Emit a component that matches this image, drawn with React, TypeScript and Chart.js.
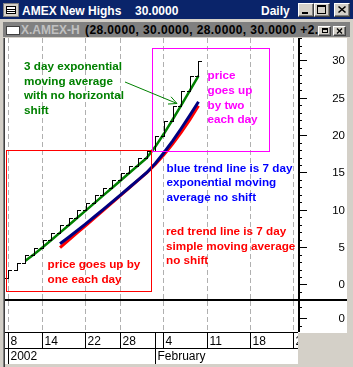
import React, { useEffect, useRef } from 'react';
import { Chart, registerables } from 'chart.js';

Chart.register(...registerables);

const FONT = '"Liberation Sans", Arial, Helvetica, sans-serif';
const TOP = 38; // page y of the canvas top

// trading-day index of every bar (Jan 8 2002 = 0)
const barIndex = [0, 1, 2, 3, 4, 5, 6, 7, 8, 9, 10, 11, 12, 13, 14, 15, 16, 17, 18, 19, 20, 21, 22];
const opens = [1, 2, 3, 4, 5, 6, 7, 8, 9, 10, 11, 12, 13, 14, 15, 16, 17, 18, 20, 22, 24, 26, 28];
const highs = [2, 3, 4, 5, 6, 7, 8, 9, 10, 11, 12, 13, 14, 15, 16, 17, 18, 20, 22, 24, 26, 28, 30];
const lows = [1, 2, 3, 4, 5, 6, 7, 8, 9, 10, 11, 12, 13, 14, 15, 16, 17, 18, 20, 22, 24, 26, 28];
const closes = [2, 3, 4, 5, 6, 7, 8, 9, 10, 11, 12, 13, 14, 15, 16, 17, 18, 20, 22, 24, 26, 28, 30];

const ema3 = [null, null, 3.25, 4.13, 5.06, 6.03, 7.02, 8.01, 9, 10, 11, 12, 13, 14, 15, 16, 17, 18.5, 20.25, 22.13, 24.06, 26.03, 28.02];
const ema7 = [null, null, null, null, null, null, 5.53, 6.4, 7.3, 8.23, 9.17, 10.13, 11.1, 12.08, 13.06, 14.05, 15.04, 16.28, 17.71, 19.28, 20.96, 22.72, 24.54];
const sma7 = [null, null, null, null, null, null, 5, 6, 7, 8, 9, 10, 11, 12, 13, 14, 15, 16.14, 17.43, 18.86, 20.43, 22.14, 24];

const dateTickIdx = [0, 4, 9, 13, 18, 23, 28, 33];
const dateTickLabels = ['8', '14', '22', '28', '4', '11', '18', '25'];
const monthIdx = [0, 17];
const monthLabels = ['2002', 'February'];

const priceTicks = [-1, 0, 1, 2, 3, 4, 5, 6, 7, 8, 9, 10, 11, 12, 13, 14, 15, 16, 17, 18, 19, 20, 21, 22, 23, 24, 25, 26, 27, 28, 29, 30, 31, 32, 33];
const priceLabels = [0, 5, 10, 15, 20, 25, 30];

const pts = (arr: (number | null)[]) =>
  arr.map((v, i) => (v == null ? null : { x: barIndex[i], y: v })).filter(Boolean) as { x: number; y: number }[];

const notes = [
  { color: '#008000', x: 24, y0: 70, lines: ['3 day exponential', 'moving average', 'with no horizontal', 'shift'] },
  { color: '#ff00ff', x: 207.5, y0: 79.3, lines: ['price', 'goes up', 'by two', 'each day'] },
  { color: '#0000ff', x: 166.5, y0: 171.7, lines: ['blue trend line is 7 day', 'exponential moving', 'average no shift'] },
  { color: '#ff0000', x: 166, y0: 235, lines: ['red trend line is 7 day', 'simple moving average', 'no shift'] },
  { color: '#ff0000', x: 47.5, y0: 268.3, lines: ['price goes up by', 'one each day'] },
];

const gridColor = '#b0b0b0';

const pagePlugin = {
  id: 'page',
  beforeDraw(chart: any) {
    const ctx = chart.ctx;
    ctx.save();
    ctx.translate(0, -TOP);
    ctx.fillStyle = '#d4d0c8';
    ctx.fillRect(0, 38, 353, 329);
    ctx.fillStyle = '#808080';
    ctx.fillRect(3, 38, 1, 329);
    ctx.fillStyle = '#404040';
    ctx.fillRect(4, 38, 1, 329);
    ctx.fillStyle = '#ffffff';
    ctx.fillRect(5, 38, 342, 295);
    ctx.fillRect(5, 333, 293, 31);
    ctx.restore();
  },
  afterDatasetsDraw(chart: any) {
    const { ctx, scales } = chart;
    const xs = scales.x;
    const ys = scales.y;
    ctx.save();
    ctx.fillStyle = '#000';
    for (let i = 0; i < barIndex.length; i++) {
      const cx = Math.round(xs.getPixelForValue(barIndex[i]));
      const yh = Math.round(ys.getPixelForValue(highs[i]));
      const yl = Math.round(ys.getPixelForValue(lows[i]));
      const yo = Math.round(ys.getPixelForValue(opens[i]));
      const yc = Math.round(ys.getPixelForValue(closes[i]));
      ctx.fillRect(cx, yh, 1, yl - yh + 1);
      ctx.fillRect(cx - 3, yo, 3, 1);
      ctx.fillRect(cx + 1, yc, 3, 1);
    }
    ctx.restore();
  },
  afterDraw(chart: any) {
    const { ctx, scales } = chart;
    const xs = scales.x;
    const ys = scales.y;
    ctx.save();
    // y tick marks (canvas coords)
    ctx.fillStyle = '#000';
    ys.ticks.forEach((t: any) => {
      const p = Math.floor(ys.getPixelForValue(t.value));
      const major = priceLabels.includes(t.value);
      ctx.fillRect(300, p, major ? 7 : 2, 1);
    });
    ctx.translate(0, -TOP);
    // axis line through both panels
    ctx.fillRect(298, 38, 2, 294);
    // panel separator
    ctx.fillRect(5, 299, 342, 2);
    // lower panel grid
    ctx.strokeStyle = gridColor;
    ctx.lineWidth = 1;
    ctx.setLineDash([5, 3]);
    dateTickIdx.forEach((v) => {
      const c = Math.round(xs.getPixelForValue(v) - 0.5) + 0.5;
      ctx.beginPath();
      ctx.moveTo(c, 301);
      ctx.lineTo(c, 332);
      ctx.stroke();
    });
    ctx.setLineDash([]);
    // lower panel ticks and label
    ctx.fillStyle = '#000';
    ctx.fillRect(300, 307, 2, 1);
    ctx.fillRect(300, 318, 7, 1);
    ctx.fillRect(300, 326, 2, 1);
    ctx.font = `11.5px ${FONT}`;
    ctx.textAlign = 'right';
    ctx.textBaseline = 'middle';
    ctx.fillText('0', 345, 318.5);
    // date rows
    ctx.fillRect(5, 332, 293, 1);
    ctx.fillRect(5, 348, 293, 1);
    ctx.save();
    ctx.beginPath();
    ctx.rect(5, 332, 293, 32);
    ctx.clip();
    ctx.font = `12px ${FONT}`;
    ctx.textAlign = 'left';
    ctx.textBaseline = 'alphabetic';
    dateTickIdx.forEach((v, i) => {
      const c = Math.round(xs.getPixelForValue(v) - 0.5);
      ctx.fillRect(c, 332, 1, 16);
      ctx.fillText(dateTickLabels[i], c + 2.5, 345);
    });
    monthIdx.forEach((v, i) => {
      const c = Math.round(xs.getPixelForValue(v) - 0.5);
      ctx.fillRect(c, 332, 1, 32);
      ctx.fillText(monthLabels[i], c + 2.5, 359.5);
    });
    ctx.restore();
    // boxes
    ctx.lineWidth = 1;
    ctx.strokeStyle = '#ff00ff';
    ctx.strokeRect(152.5, 48.5, 117, 103);
    ctx.strokeStyle = '#ff0000';
    ctx.strokeRect(6.5, 150.5, 145, 141);
    // arrow
    ctx.strokeStyle = '#008000';
    const ax0 = 125, ay0 = 82, ax1 = 177, ay1 = 103.5;
    ctx.beginPath();
    ctx.moveTo(ax0, ay0);
    ctx.lineTo(ax1, ay1);
    const ang = Math.atan2(ay1 - ay0, ax1 - ax0);
    [0.45, -0.45].forEach((d) => {
      ctx.moveTo(ax1, ay1);
      ctx.lineTo(ax1 - 9 * Math.cos(ang + d), ay1 - 9 * Math.sin(ang + d));
    });
    ctx.stroke();
    // notes
    ctx.font = `bold 11.7px ${FONT}`;
    ctx.textAlign = 'left';
    ctx.textBaseline = 'alphabetic';
    notes.forEach((n) => {
      ctx.fillStyle = n.color;
      n.lines.forEach((l, k) => ctx.fillText(l, n.x, n.y0 + k * 14.6));
    });
    ctx.restore();
  },
};

const btnStyle = (left: number, top: number, w: number, h: number): React.CSSProperties => ({
  position: 'absolute',
  left,
  top,
  width: w,
  height: h,
  boxSizing: 'border-box',
  background: '#d4d0c8',
  borderTop: '1px solid #ffffff',
  borderLeft: '1px solid #ffffff',
  borderRight: '1px solid #404040',
  borderBottom: '1px solid #404040',
  boxShadow: 'inset -1px -1px 0 #808080',
});

const txt = (left: number, top: number, color: string, extra: React.CSSProperties = {}): React.CSSProperties => ({
  position: 'absolute',
  left,
  top,
  color,
  font: `bold 12px ${FONT}`,
  lineHeight: '12px',
  whiteSpace: 'nowrap',
  ...extra,
});

export default function App() {
  const ref = useRef<HTMLCanvasElement>(null);
  useEffect(() => {
    const canvas = ref.current!;
    const chart = new Chart(canvas, {
      type: 'line',
      data: {
        datasets: [
          { label: '7 day simple MA', data: pts(sma7), borderColor: '#ff0000', borderWidth: 3, pointRadius: 0, tension: 0, order: 3 },
          { label: '7 day exponential MA', data: pts(ema7), borderColor: '#000080', borderWidth: 3, pointRadius: 0, tension: 0, order: 2 },
          { label: '3 day exponential MA', data: pts(ema3), borderColor: '#008000', borderWidth: 2.5, pointRadius: 0, tension: 0, order: 1 },
        ],
      },
      options: {
        animation: false,
        responsive: false,
        devicePixelRatio: 1,
        events: [],
        layout: { padding: { left: 5, right: 8, top: 0, bottom: 68 } },
        plugins: { legend: { display: false }, tooltip: { enabled: false } },
        scales: {
          x: {
            type: 'linear',
            min: -0.3582,
            max: 33.499,
            grid: { display: true, drawTicks: false, color: gridColor, lineWidth: 1, borderDash: [5, 3] } as any,
            border: { display: false, dash: [5, 3] },
            ticks: { display: false },
            afterBuildTicks: (s: any) => {
              s.ticks = dateTickIdx.map((v) => ({ value: v }));
            },
            afterFit: (s: any) => {
              s.height = 0;
              s.paddingLeft = 0;
              s.paddingRight = 0;
            },
          },
          y: {
            type: 'linear',
            position: 'right',
            min: -1.875,
            max: 33.08,
            grid: { display: false, drawTicks: false },
            border: { display: false },
            ticks: {
              autoSkip: false,
              padding: 34,
              crossAlign: 'far',
              color: '#000',
              font: { family: FONT, size: 11.5 },
              callback: (v: any) => (priceLabels.includes(Number(v)) ? String(v) : ''),
            },
            afterBuildTicks: (s: any) => {
              s.ticks = priceTicks.map((v) => ({ value: v }));
            },
            afterFit: (s: any) => {
              s.width = 47;
              s.paddingTop = 0;
              s.paddingBottom = 0;
            },
          },
        },
      },
      plugins: [pagePlugin],
    } as any);
    return () => chart.destroy();
  }, []);

  return (
    <div style={{ position: 'fixed', left: 0, top: 0, width: 353, height: 367, background: '#d4d0c8', overflow: 'hidden' }}>
      {/* title bar */}
      <div style={{ position: 'absolute', left: 0, top: 0, width: 353, height: 19, background: '#0a246a' }} />
      <div style={{ position: 'absolute', left: 3, top: 3, width: 16, height: 14, boxSizing: 'border-box', background: '#d4d0c8', border: '1px solid #808080' }}>
        <div style={{ position: 'absolute', left: 2, top: 2, width: 10, height: 8, boxSizing: 'border-box', border: '1px solid #000', background: '#fff' }}>
          <div style={{ position: 'absolute', left: 0, top: 2, width: 8, height: 1, background: '#000' }} />
          <div style={{ position: 'absolute', left: 0, top: 4, width: 8, height: 1, background: '#000' }} />
        </div>
      </div>
      <div style={txt(22, 5, '#ffffff')}>AMEX New Highs</div>
      <div style={txt(135, 5, '#ffffff')}>30.0000</div>
      <div style={txt(261, 5, '#ffffff')}>Daily</div>
      <div style={btnStyle(298, 3, 16, 14)}>
        <div style={{ position: 'absolute', left: 3, top: 8, width: 6, height: 2, background: '#000' }} />
      </div>
      <div style={btnStyle(314, 3, 16, 14)}>
        <div style={{ position: 'absolute', left: 2, top: 1, width: 9, height: 9, boxSizing: 'border-box', border: '1px solid #000', borderTop: '2px solid #000' }} />
      </div>
      <div style={btnStyle(334, 3, 16, 14)}>
        <svg width="14" height="12" style={{ position: 'absolute', left: 0, top: 0 }}>
          <path d="M3.5 2.5L10.5 8.5M10.5 2.5L3.5 8.5" stroke="#000" strokeWidth="1.6" />
        </svg>
      </div>
      {/* child bar */}
      <div style={{ position: 'absolute', left: 3, top: 22, width: 347, height: 15, background: '#808080' }} />
      <div style={{ position: 'absolute', left: 6, top: 26, width: 14, height: 9, boxSizing: 'border-box', background: '#fff', border: '1px solid #404040' }} />
      <div style={txt(21, 24, '#c0c0c0')}>X.AMEX-H</div>
      <div style={{ position: 'absolute', left: 85, top: 22, width: 233, height: 15, overflow: 'hidden' }}>
        <div style={txt(0, 2, '#000000', { letterSpacing: '0.4px' })}>(28.0000, 30.0000, 28.0000, 30.0000 +2.0000</div>
      </div>
      <div style={btnStyle(318, 26, 13, 10)}>
        <div style={{ position: 'absolute', left: 3, top: 1, width: 6, height: 5, boxSizing: 'border-box', border: '1px solid #000', borderTop: '2px solid #000' }} />
      </div>
      <div style={btnStyle(333, 26, 13, 10)}>
        <svg width="11" height="8" style={{ position: 'absolute', left: 0, top: 0 }}>
          <path d="M3 1.5L8 6.5M8 1.5L3 6.5" stroke="#000" strokeWidth="1.4" />
        </svg>
      </div>
      <canvas ref={ref} width={353} height={329} style={{ position: 'absolute', left: 0, top: TOP, width: 353, height: 329 }} />
    </div>
  );
}
